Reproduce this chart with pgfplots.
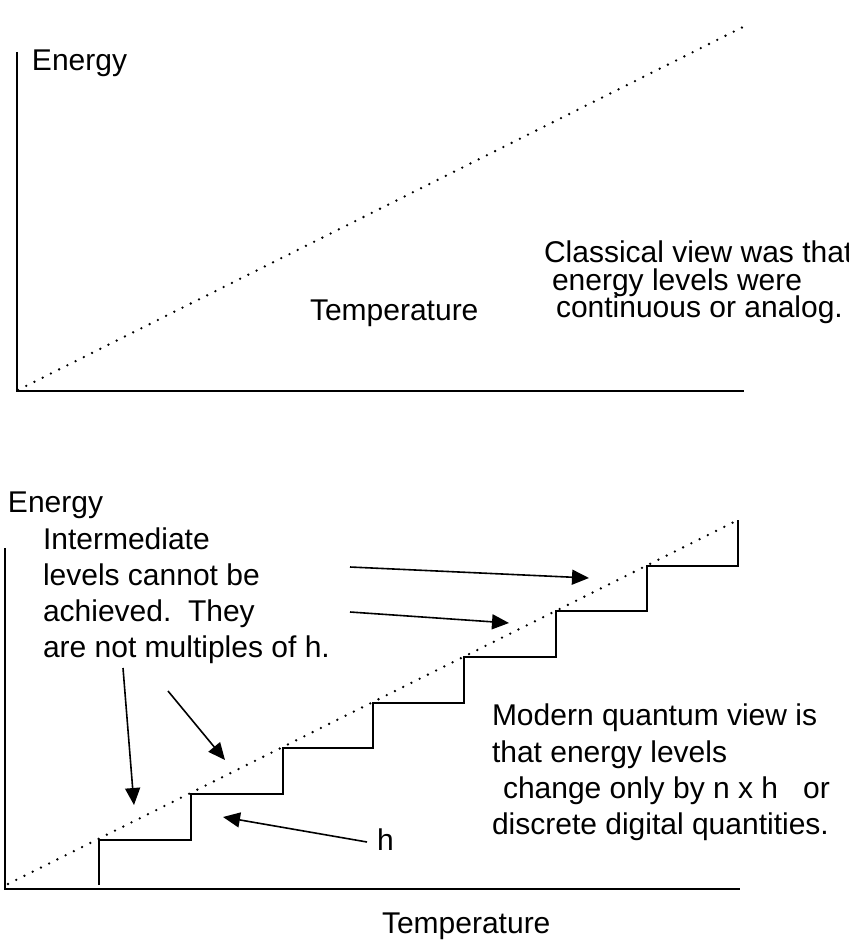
\documentclass[border=0pt]{standalone}
\usepackage{pgfplots}
\pgfplotsset{compat=1.18}
\usepackage{fontspec}
\setmainfont{Liberation Sans}
\usetikzlibrary{arrows.meta}
\tikzset{lbl/.style={font=\fontsize{15}{15}\selectfont, anchor=base west, inner sep=0pt, outer sep=0pt}}
\begin{document}
\begin{tikzpicture}
\useasboundingbox (0,0) rectangle (424.5pt,476pt);
\clip (0,0) rectangle (424.5pt,476pt);
\begin{axis}[
  scale only axis, width=424.5pt, height=476pt,
  xmin=0, xmax=849, ymin=0, ymax=952, y dir=reverse,
  hide axis, clip=false,
]
% ---------- top diagram ----------
\addplot[black, line width=1pt] coordinates {(17,52) (17,391) (744,391)};
\addplot[black, line width=1.3pt, line cap=round, dash pattern=on 0pt off 4.6pt] coordinates {(18,390) (743,27)};
\node[lbl] at (axis cs:32,71) {Energy};
\node[lbl] at (axis cs:310,320) {Temperature};
\node[lbl] at (axis cs:544,263) {Classical view was that};
\node[lbl] at (axis cs:552,290) {energy levels were};
\node[lbl] at (axis cs:556,317) {continuous or analog.};
% ---------- bottom diagram ----------
\addplot[black, line width=1pt] coordinates {(5,548) (5,889) (740,889)};
\addplot[black, line width=1.3pt, line cap=round, dash pattern=on 0pt off 4.6pt] coordinates {(8,884) (738,520)};
\addplot[black, line width=1pt] coordinates {
 (99,885) (99,840) (191,840) (191,794) (283,794) (283,748) (373,748) (373,703)
 (464,703) (464,657) (556,657) (556,611) (647,611) (647,566) (738,566) (738,520)};
% arrows
\addplot[black, line width=0.8pt, -{Triangle[length=8.5pt,width=7.5pt]}] coordinates {(350,567) (589,578)};
\addplot[black, line width=0.8pt, -{Triangle[length=8.5pt,width=7.5pt]}] coordinates {(350,612) (509,623)};
\addplot[black, line width=0.8pt, -{Triangle[length=8.5pt,width=7.5pt]}] coordinates {(123,668) (134,805)};
\addplot[black, line width=0.8pt, -{Triangle[length=8.5pt,width=7.5pt]}] coordinates {(168,691) (225,760)};
\addplot[black, line width=0.8pt, -{Triangle[length=8.5pt,width=7.5pt]}] coordinates {(367,842) (223,817)};
\node[lbl] at (axis cs:8,512) {Energy};
\node[lbl] at (axis cs:43,549) {Intermediate};
\node[lbl] at (axis cs:43,585) {levels cannot be};
\node[lbl] at (axis cs:43,621) {achieved.\ \ They};
\node[lbl] at (axis cs:43,657) {are not multiples of h.};
\node[lbl] at (axis cs:377,850) {h};
\node[lbl] at (axis cs:492,725) {Modern quantum view is};
\node[lbl] at (axis cs:492,762) {that energy levels};
\node[lbl] at (axis cs:503,798) {change only by n x h\ \ \ or};
\node[lbl] at (axis cs:492,834) {discrete digital quantities.};
\node[lbl] at (axis cs:382,933) {Temperature};
\end{axis}
\end{tikzpicture}
\end{document}
